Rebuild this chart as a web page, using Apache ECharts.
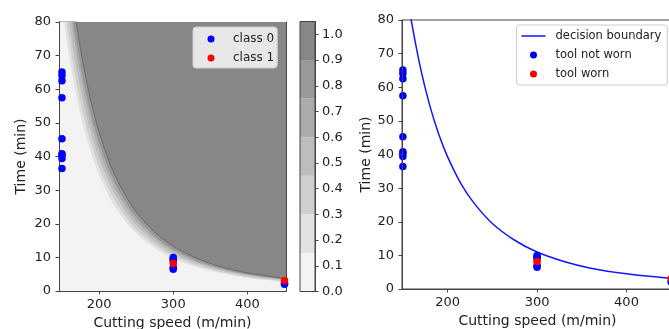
<!DOCTYPE html>
<html>
<head>
<meta charset="utf-8">
<script src="https://cdn.jsdelivr.net/npm/echarts@6/dist/echarts.min.js"></script>
<style>
  html, body { margin: 0; padding: 0; background: #fff; }
  #chart { width: 669px; height: 329px; }
</style>
</head>
<body>
<div id="chart"></div>
<script>
// measured points (speed m/min, time min)
var notWornSpeed = [150, 150, 150, 150, 150, 150, 150, 150, 150, 300, 300, 300, 300, 300, 450, 450];
var notWornTime = [65.1, 64.1, 62.5, 57.5, 45.3, 40.8, 40.4, 39.4, 36.4, 10, 9.5, 9, 7, 6.5, 2.0, 2.4];
var wornSpeed = [300, 450];
var wornTime = [8.2, 3.1];

// contour levels of the probability surface
var contourSpeed = [146, 150, 155, 160, 165, 170, 180, 190, 200, 215, 230, 250, 275, 300, 330, 360, 400, 452];
var level15 = [92.6, 85, 76.7, 69.4, 63.1, 57.5, 48, 40.6, 34.5, 27.5, 22.3, 17.2, 12.8, 9.7, 7.2, 5.5, 3.9, 2.7];
var level30 = [98.9, 90.8, 82, 74.2, 67.4, 61.4, 51.3, 43.4, 36.9, 29.4, 23.9, 18.3, 13.7, 10.4, 7.7, 5.9, 4.2, 2.9];
var level45 = [105.9, 97.2, 87.8, 79.4, 72.1, 65.7, 54.9, 46.4, 39.5, 31.5, 25.6, 19.6, 14.6, 11.1, 8.3, 6.3, 4.5, 3.1];
var level60 = [112.9, 103.6, 93.5, 84.6, 76.9, 70, 58.6, 49.5, 42.1, 33.6, 27.2, 20.9, 15.6, 11.8, 8.8, 6.7, 4.8, 3.3];
var level75 = [119.8, 110, 99.3, 89.9, 81.6, 74.4, 62.2, 52.5, 44.7, 35.6, 28.9, 22.2, 16.5, 12.6, 9.4, 7.1, 5.1, 3.5];
var level90 = [126.8, 116.4, 105.1, 95.1, 86.4, 78.7, 65.8, 55.6, 47.3, 37.7, 30.6, 23.5, 17.5, 13.3, 9.9, 7.5, 5.4, 3.7];

// decision boundary, right panel
var boundarySpeed = [155, 160, 170, 180, 190, 200, 215, 230, 250, 275, 300, 330, 360, 400, 452];
var boundaryTime = [87.2, 78.9, 65.3, 54.6, 46.1, 39.3, 31.3, 25.4, 19.5, 14.5, 11, 8.2, 6.2, 4.5, 3.1];

var bandLevels = [0, 0.15, 0.3, 0.45, 0.6, 0.75, 0.9, 1.05];
var bandColors = ['#f3f3f3', '#e1e1e1', '#cfcfcf', '#bdbdbd', '#ababab', '#999999', '#878787'];
var colorbarTicks = [0, 0.1, 0.2, 0.3, 0.4, 0.5, 0.6, 0.7, 0.8, 0.9, 1.0];
var speedTicks = [200, 300, 400];

function zip(a, b) {
  return a.map(function (v, i) { return [v, b[i]]; });
}

var font = 'DejaVu Sans';
var ink = '#222';
var spine = '#444';
var blue = '#0000ff';
var red = '#ff0000';
var levels = [level15, level30, level45, level60, level75, level90];

// legend handles: 34x7 box, dot / line centred in it
var dotIcon = 'path://M0,0M34,7M17,0A3.5,3.5,0,1,1,17,7A3.5,3.5,0,1,1,17,0Z';
var lineIcon = 'path://M0,0M34,7M5,2.75H29V4.25H5Z';

var chart = echarts.init(document.getElementById('chart'));

function speedAxis(grid, min, max, pos, bare, gap) {
  return {
    type: 'value', gridIndex: grid, min: min, max: max, position: pos, z: 10,
    name: bare ? '' : 'Cutting speed (m/min)', nameLocation: 'middle', nameGap: gap,
    nameTextStyle: { fontFamily: font, fontSize: 14, color: ink },
    splitLine: { show: false },
    axisLine: { show: true, lineStyle: { color: spine, width: 1 } },
    axisTick: { show: !bare, length: 3.5, customValues: speedTicks, lineStyle: { color: spine } },
    axisLabel: { show: !bare, customValues: speedTicks, margin: 7, fontFamily: font, fontSize: 13, color: ink }
  };
}
function timeAxis(grid, pos, bare, gap) {
  return {
    type: 'value', gridIndex: grid, min: 0, max: 80, interval: 10, position: pos, z: 10,
    name: bare ? '' : 'Time (min)', nameLocation: 'middle', nameGap: gap, nameRotate: 90,
    nameTextStyle: { fontFamily: font, fontSize: 14, color: ink },
    splitLine: { show: false },
    axisLine: { show: true, lineStyle: { color: spine, width: 1 } },
    axisTick: { show: !bare, length: 3.5, lineStyle: { color: spine } },
    axisLabel: { show: !bare, margin: 8, fontFamily: font, fontSize: 13, color: ink }
  };
}

var series = [];
levels.forEach(function (lv, i) {
  series.push({
    type: 'line', xAxisIndex: 0, yAxisIndex: 0, silent: true,
    data: zip(contourSpeed, lv), symbol: 'none', smooth: 0.3,
    lineStyle: i === 5 ? { color: '#6a6a6a', width: 1 } : (i === 4 ? { color: '#8c8c8c', width: 0.7 } : { width: 0 }),
    areaStyle: { origin: 'end', color: bandColors[i + 1], opacity: 1 },
    z: 2 + i
  });
});
series.push({
  name: 'class 0', type: 'scatter', xAxisIndex: 0, yAxisIndex: 0,
  data: zip(notWornSpeed, notWornTime), symbolSize: 7.5, itemStyle: { color: blue, opacity: 1 }, z: 20
});
series.push({
  name: 'class 1', type: 'scatter', xAxisIndex: 0, yAxisIndex: 0,
  data: zip(wornSpeed, wornTime), symbolSize: 7.5, itemStyle: { color: red, opacity: 1 }, z: 21
});
// colorbar
bandColors.forEach(function (c, i) {
  series.push({
    type: 'bar', xAxisIndex: 2, yAxisIndex: 2, stack: 'cb', silent: true, barWidth: '100%',
    data: [bandLevels[i + 1] - bandLevels[i]], itemStyle: { color: c }
  });
});
// right panel
series.push({
  name: 'decision boundary', type: 'line', xAxisIndex: 3, yAxisIndex: 3,
  data: zip(boundarySpeed, boundaryTime), symbol: 'none', smooth: 0.3,
  lineStyle: { color: '#1414ff', width: 1.5 }, itemStyle: { color: '#1414ff' }, z: 5
});
series.push({
  name: 'tool not worn', type: 'scatter', xAxisIndex: 3, yAxisIndex: 3,
  data: zip(notWornSpeed, notWornTime), symbolSize: 7.5, itemStyle: { color: blue, opacity: 1 }, z: 6
});
series.push({
  name: 'tool worn', type: 'scatter', xAxisIndex: 3, yAxisIndex: 3,
  data: zip(wornSpeed, wornTime), symbolSize: 7.5, itemStyle: { color: red, opacity: 1 }, z: 7
});

var legendBase = {
  orient: 'vertical', itemWidth: 34, itemHeight: 7, itemGap: 5,
  backgroundColor: 'rgba(255,255,255,0.8)', borderColor: '#cccccc', borderWidth: 1, borderRadius: 3,
  textStyle: { fontFamily: font, fontSize: 12, color: ink, lineHeight: 14 },
  z: 30
};

chart.setOption({
  animation: false,
  grid: [
    { left: 59, top: 22, width: 227, height: 269, outerBoundsMode: 'none', show: true, backgroundColor: '#f3f3f3', borderWidth: 0 },
    { left: 300, top: 21.5, width: 15, height: 270, outerBoundsMode: 'none', show: true, borderColor: spine, borderWidth: 1, backgroundColor: 'transparent', z: 10 },
    { left: 402, top: 20, width: 271, height: 269, outerBoundsMode: 'none', show: true, borderColor: spine, borderWidth: 1, backgroundColor: '#fff' }
  ],
  xAxis: [
    speedAxis(0, 146, 452, 'bottom', false, 23),
    speedAxis(0, 146, 452, 'top', true, 0),
    { type: 'category', gridIndex: 1, data: ['p'], show: false },
    speedAxis(2, 149, 452, 'bottom', false, 22)
  ],
  yAxis: [
    timeAxis(0, 'left', false, 31),
    timeAxis(0, 'right', true, 0),
    {
      type: 'value', gridIndex: 1, min: 0, max: 1.05, position: 'right', z: 10,
      splitLine: { show: false },
      axisLine: { show: true, lineStyle: { color: spine } },
      axisTick: { show: true, length: 3.5, customValues: colorbarTicks, lineStyle: { color: spine } },
      axisLabel: { customValues: colorbarTicks, margin: 7, fontFamily: font, fontSize: 13, color: ink,
        formatter: function (v) { return v.toFixed(1); } }
    },
    timeAxis(2, 'left', false, 29)
  ],
  legend: [
    Object.assign({}, legendBase, {
      data: [{ name: 'class 0', icon: dotIcon }, { name: 'class 1', icon: dotIcon }],
      left: 193, top: 27, padding: [5, 3, 3, 1]
    }),
    Object.assign({}, legendBase, {
      data: [
        { name: 'decision boundary', icon: lineIcon },
        { name: 'tool not worn', icon: dotIcon },
        { name: 'tool worn', icon: dotIcon }
      ],
      left: 516.5, top: 25, padding: [4, 6, 4, 0],
      textStyle: Object.assign({}, legendBase.textStyle, { fontSize: 11.5 })
    })
  ],
  series: series
});
</script>
</body>
</html>
